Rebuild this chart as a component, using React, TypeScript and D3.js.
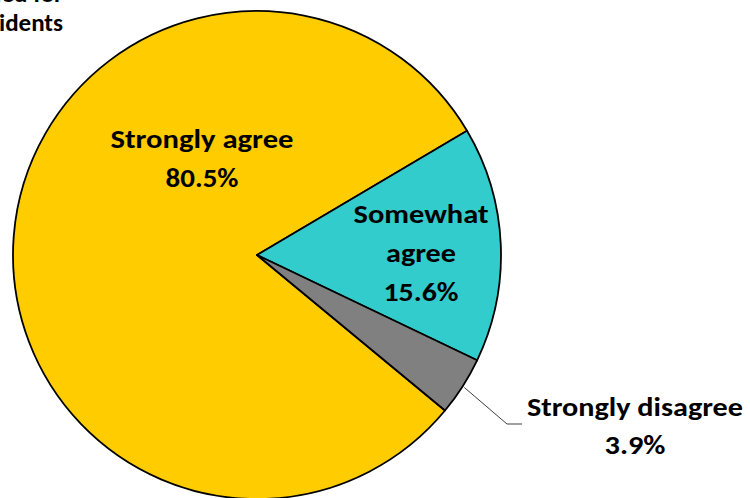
import React from "react";
import * as d3 from "d3";

const categories = ["Strongly agree", "Somewhat agree", "Strongly disagree"];
const values = [80.5, 15.6, 3.9];
const colors = ["#FFCC00", "#33CCCC", "#808080"];
const labelLines = [
  ["Strongly agree", "80.5%"],
  ["Somewhat", "agree", "15.6%"],
  ["Strongly disagree", "3.9%"],
];
const labelWidths = [
  [183, 73],
  [135, 70, 75],
  [216, 61],
];
const titleLines = ["Services needed for", "residents"];

const W = 750;
const H = 498;
const cx = 257;
const cy = 255;
const R = 244;
const FONT = "Carlito, Calibri, Lato, 'DejaVu Sans', sans-serif";

export default function App() {
  const pie = d3
    .pie<number>()
    .sort(null)
    .startAngle((129.6 * Math.PI) / 180)
    .endAngle((129.6 * Math.PI) / 180 + 2 * Math.PI);
  const arcs = pie(values);
  const arc = d3.arc<d3.PieArcDatum<number>>().innerRadius(0).outerRadius(R);

  // label anchors relative to pie centre (centre x, first baseline)
  const labelPos = [
    { dx: -55, dy: -107 },
    { dx: 164, dy: -32 },
    { dx: 378, dy: 161 },
  ];
  const lineGap = [39, 39, 38];

  // leader line for the small slice
  const a = arcs[2];
  const mid = (a.startAngle + a.endAngle) / 2;
  const p0 = [cx + Math.sin(mid) * (R + 2), cy - Math.cos(mid) * (R + 2)];
  const p1 = [cx + 250, cy + 169];
  const p2 = [cx + 265, cy + 169];

  return (
    <svg
      width={W}
      height={H}
      style={{ position: "absolute", left: 0, top: 0, background: "#fff" }}
    >
      <g transform={`translate(${cx},${cy})`}>
        {arcs.map((d, i) => (
          <path
            key={categories[i]}
            d={arc(d) || ""}
            fill={colors[i]}
            stroke="#000"
            strokeWidth={1.8}
            strokeLinejoin="round"
          />
        ))}
      </g>
      <polyline
        points={[p0, p1, p2].map((p) => p.join(",")).join(" ")}
        fill="none"
        stroke="#404040"
        strokeWidth={1}
      />
      {labelLines.map((lines, i) =>
        lines.map((t, j) => (
          <text
            key={`${i}-${j}`}
            fontFamily={FONT}
            fontWeight="bold"
            fontSize={26}
            fill="#000"
            textAnchor="middle"
            x={cx + labelPos[i].dx}
            y={cy + labelPos[i].dy + j * lineGap[i]}
            textLength={labelWidths[i][j]}
            lengthAdjust="spacingAndGlyphs"
          >
            {t}
          </text>
        ))
      )}
      <text fontFamily={FONT} fontWeight="bold" fontSize={25} fill="#000" textAnchor="end">
        {titleLines.map((t, j) => (
          <tspan key={j} x={63} y={2 + j * 29}>
            {t}
          </tspan>
        ))}
      </text>
    </svg>
  );
}
